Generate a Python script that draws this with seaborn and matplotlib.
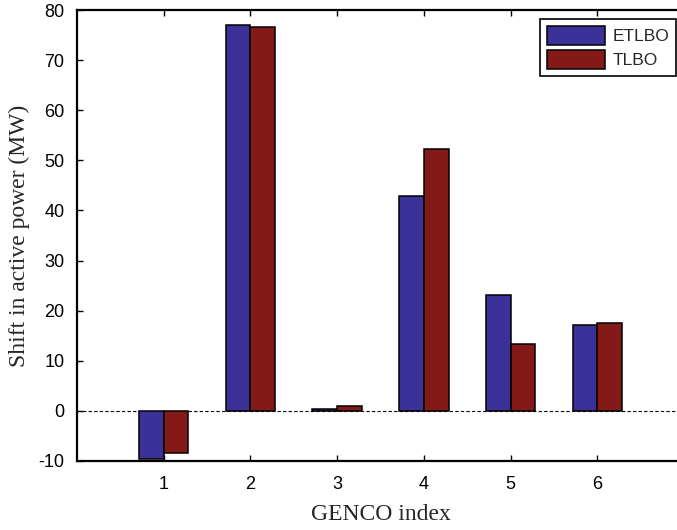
import matplotlib
matplotlib.use("Agg")
import matplotlib.pyplot as plt
import seaborn as sns
import pandas as pd

gencos = ["1", "2", "3", "4", "5", "6"]
etlbo = [-9.6, 77.0, 0.3, 42.9, 23.2, 17.1]
tlbo = [-8.4, 76.6, 1.0, 52.3, 13.4, 17.6]
series_names = ["ETLBO", "TLBO"]
yticks = [-10, 0, 10, 20, 30, 40, 50, 60, 70, 80]

df = pd.DataFrame({
    "GENCO": gencos * 2,
    "value": etlbo + tlbo,
    "method": [series_names[0]] * len(gencos) + [series_names[1]] * len(gencos),
})

sns.set_style("white")
plt.rcParams["font.family"] = ["Liberation Sans", "DejaVu Sans"]

fig = plt.figure(figsize=(6.77, 5.30), dpi=100)
ax = fig.add_axes([0.1137, 0.1302, 0.8966, 0.8509])

palette = {"ETLBO": "#3c3199", "TLBO": "#841a17"}
sns.barplot(data=df, x="GENCO", y="value", hue="method", order=gencos,
            hue_order=series_names, palette=palette, width=0.57,
            edgecolor="black", linewidth=1.1, saturation=1, ax=ax)

ax.axhline(0, color="black", linestyle=(0, (3, 2)), linewidth=0.8, zorder=0.5)

ax.set_xlim(-1, 6)
ax.set_ylim(-10, 80)
ax.set_yticks(yticks)
ax.set_yticklabels([str(t) for t in yticks])

for s in ["left", "top", "bottom", "right"]:
    ax.spines[s].set_visible(True)
    ax.spines[s].set_color("black")
    ax.spines[s].set_linewidth(1.6)

ax.tick_params(axis="both", direction="in", length=4, width=1.0, labelsize=13,
               colors="black", top=True, bottom=True, left=True, right=False)
ax.tick_params(axis="x", pad=11)
ax.tick_params(axis="y", pad=9)

ax.set_xlabel("GENCO index", family=["Liberation Serif", "DejaVu Serif"], fontsize=17, labelpad=8)
ax.set_ylabel("Shift in active power (MW)", family=["Liberation Serif", "DejaVu Serif"], fontsize=17, labelpad=6)

leg = ax.legend(loc="upper right", bbox_to_anchor=(0.987, 0.98), fontsize=12.5, frameon=True,
                fancybox=False, edgecolor="black", framealpha=1, borderpad=0.4,
                handlelength=3.3, handleheight=1.3, handletextpad=0.45, labelspacing=0.3,
                borderaxespad=0.0)
leg.get_frame().set_linewidth(1.2)

fig.savefig("out.png", dpi=100)
